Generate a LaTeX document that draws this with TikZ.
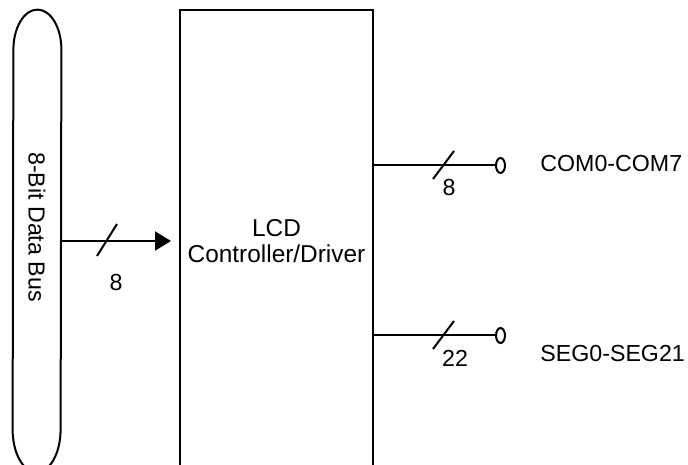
\documentclass[tikz,border=0pt]{standalone}
\usepackage{fontspec}
\setmainfont{Liberation Sans}
\usepackage{tikz}
\usetikzlibrary{arrows.meta,positioning,shapes.geometric}

\tikzset{
  wire/.style={line width=1pt},
  pin/.style={ellipse,draw,line width=1pt,minimum width=4.5pt,minimum height=7.5pt,inner sep=0pt},
  sig/.style={inner sep=0pt,anchor=west},
}

\begin{document}
\begin{tikzpicture}[x=0.5pt,y=0.5pt,font=\fontsize{11.6}{13.25}\selectfont]
  \useasboundingbox (0,0) rectangle (688,464);
  \clip (0,0) rectangle (688,464);

  % bus and controller
  \node[minimum width=24pt,minimum height=231pt,inner sep=0pt] (bus) at (37,223) {};
  \draw[wire] ([yshift=-20pt]bus.north east)
      arc[start angle=0,end angle=180,x radius=12pt,y radius=20pt]
      -- ([yshift=21.5pt]bus.south west)
      arc[start angle=180,end angle=360,x radius=12pt,y radius=21.5pt] -- cycle;
  \node[rotate=-90,inner sep=0pt] (buslabel) at (37,237) {8-Bit Data Bus};

  \node[draw,line width=1pt,minimum width=96.5pt,minimum height=231pt,
        align=center,font=\fontsize{12.2}{13.25}\selectfont] (lcd) at (276.5,223) {LCD\\Controller/Driver};

  % pins
  \node[pin] (com) at (500.5,298.5) {};
  \node[pin] (seg) at (500.5,128.5) {};
  \node[sig] (comtxt) at (540,300) {COM0-COM7};
  \node[sig] (segtxt) at (540,110) {SEG0-SEG21};

  % connections
  \draw[wire,-{Triangle[length=8pt,width=9.5pt]},shorten >=4pt]
      (bus.east) -- (lcd.west |- bus.east);
  \draw[wire] (lcd.east |- com) -- (com);
  \draw[wire] (lcd.east |- seg) -- (seg);

  % bus width marks
  \coordinate (s1) at (107,224);
  \coordinate (s2) at (443.5,299);
  \coordinate (s3) at (443.5,129);
  \draw[wire] ([shift={(-10,-16)}]s1) -- ++(20,32);
  \draw[wire] ([shift={(-10.5,-14)}]s2) -- ++(21,28);
  \draw[wire] ([shift={(-10.5,-14)}]s3) -- ++(21,28);
  \node (n1) at (116,181) {8};
  \node (n2) at (449,276) {8};
  \node (n3) at (455,106) {22};
\end{tikzpicture}
\end{document}
